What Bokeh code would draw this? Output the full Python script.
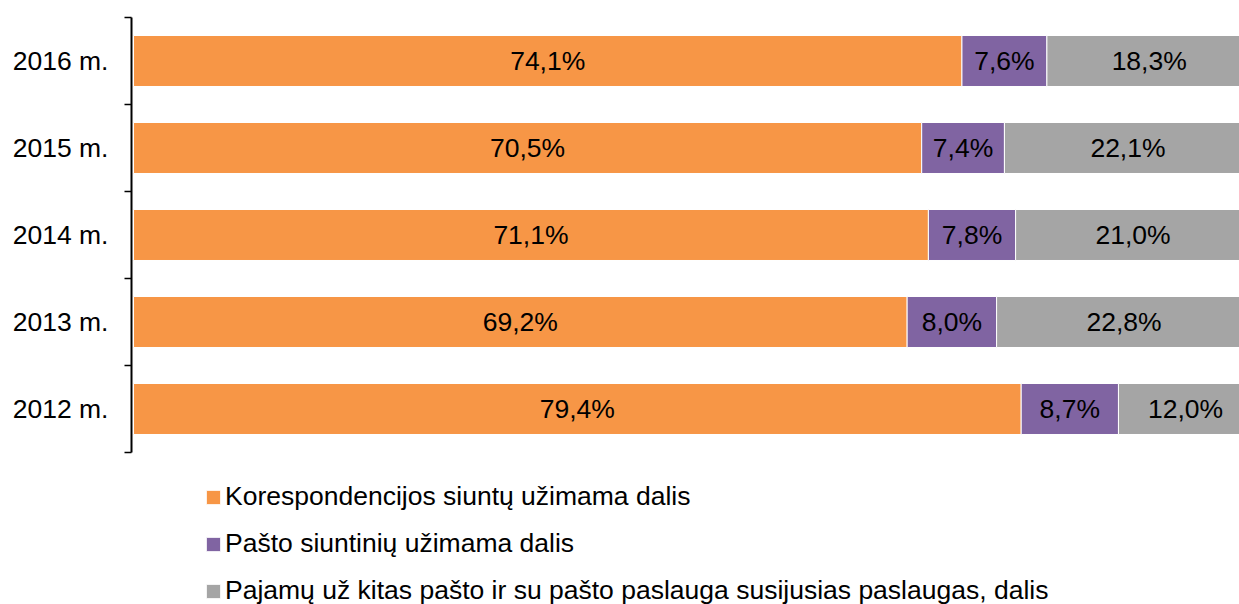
from bokeh.plotting import figure
from bokeh.models import ColumnDataSource, Range1d, FixedTicker, Legend, LegendItem, LabelSet
from bokeh.core.properties import value
from bokeh.embed import file_html
from bokeh.resources import INLINE

years = ["2012 m.", "2013 m.", "2014 m.", "2015 m.", "2016 m."]
korespondencija = [79.4, 69.2, 71.1, 70.5, 74.1]
siuntiniai = [8.7, 8.0, 7.8, 7.4, 7.6]
kitos = [12.0, 22.8, 21.0, 22.1, 18.3]
series_names = [
    "Korespondencijos siuntų užimama dalis",
    "Pašto siuntinių užimama dalis",
    "Pajamų už kitas pašto ir su pašto paslauga susijusias paslaugas, dalis",
]
colors = ["#F79646", "#8064A2", "#A5A5A5"]

FONT = "Liberation Sans"
FS = "26.5px"
n = len(years)
ypos = [i + 0.5 for i in range(n)]

src = ColumnDataSource(dict(y=ypos, k=korespondencija, s=siuntiniai, o=kitos))

W, H = 1239, 604
top, left = 17, 131
row_px = 87.0
px_per_pct = 11.18
x0 = -2 / px_per_pct
y_span = (H - top) / row_px

p = figure(width=W, height=H, output_backend="svg", toolbar_location=None,
           x_range=Range1d(x0, x0 + (W - left) / px_per_pct), y_range=Range1d(n - y_span, n),
           min_border_left=left, min_border_right=0, min_border_top=top, min_border_bottom=0)

rs = p.hbar_stack(["k", "s", "o"], y="y", height=0.586, color=colors, source=src,
                  line_color="white", line_width=1)

lx, ly, lt = [], [], []
for i, y in enumerate(ypos):
    acc = 0.0
    for vals in (korespondencija, siuntiniai, kitos):
        v = vals[i]
        lx.append(acc + v / 2)
        ly.append(y)
        lt.append(("%.1f%%" % v).replace(".", ","))
        acc += v
lsrc = ColumnDataSource(dict(x=lx, y=ly, t=lt))
p.add_layout(LabelSet(x="x", y="y", text="t", source=lsrc, text_align="center",
                      text_baseline="middle", text_font=value(FONT), text_font_size=FS,
                      text_color="black"))

p.xaxis.visible = False
p.xgrid.visible = False
p.ygrid.visible = False
p.outline_line_color = None

yax = p.yaxis[0]
yax.bounds = (0, n)
yax.ticker = FixedTicker(ticks=ypos, minor_ticks=list(range(n + 1)))
yax.major_label_overrides = {y: lab for y, lab in zip(ypos, years)}
yax.major_tick_out = 0
yax.major_tick_in = 0
yax.minor_tick_out = 7
yax.minor_tick_in = 0
yax.minor_tick_line_color = "black"
yax.minor_tick_line_width = 1.5
yax.axis_line_color = "black"
yax.axis_line_width = 2
yax.major_label_standoff = 16
yax.major_label_text_font = FONT
yax.major_label_text_font_size = FS
yax.major_label_text_color = "black"

legend = Legend(items=[LegendItem(label=nm, renderers=[r]) for nm, r in zip(series_names, rs)],
                location=(73, -2), orientation="vertical",
                glyph_width=18, glyph_height=18, label_height=30, spacing=16,
                label_standoff=3, padding=0, margin=0,
                label_text_font=FONT, label_text_font_size=FS, label_text_color="black",
                border_line_color=None, background_fill_alpha=0)
p.add_layout(legend, "center")

open("out.html", "w").write(file_html(p, INLINE))
